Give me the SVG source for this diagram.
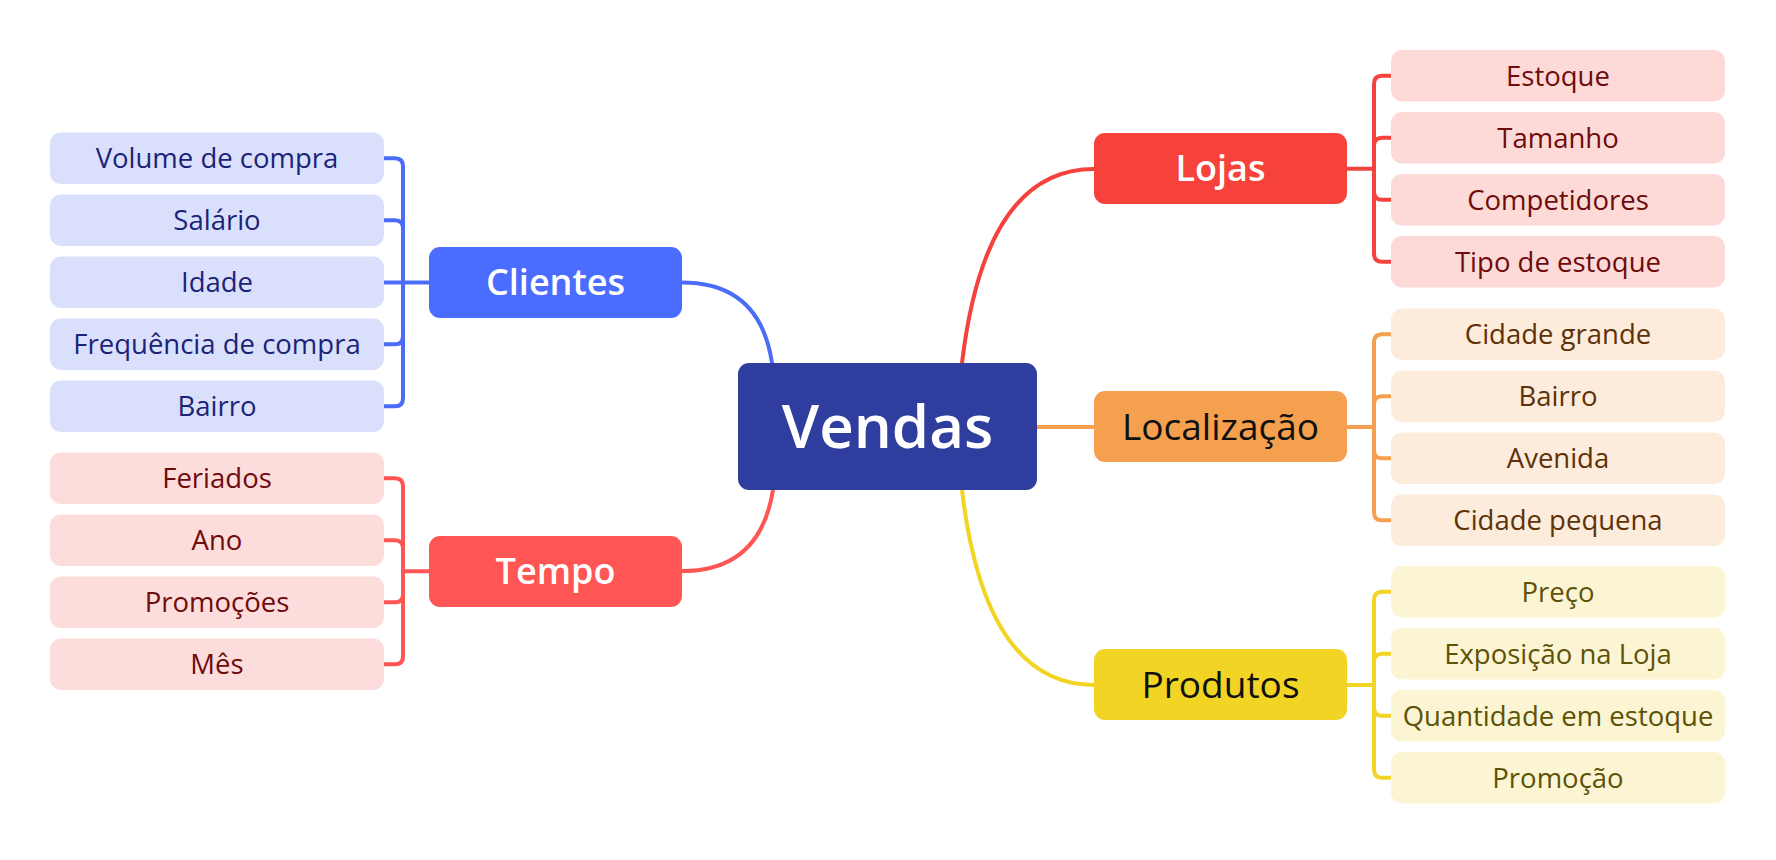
<svg xmlns="http://www.w3.org/2000/svg" width="1776" height="860" viewBox="0 0 1776 860">
<style>
text{font-family:"Open Sans","Liberation Sans",sans-serif;text-anchor:middle}
.leaf{font-size:27.5px}
.br{font-size:36px;font-weight:600}
.brd{font-size:37px;font-weight:400}
.c{fill:none;stroke-width:4;stroke-linecap:round}
.blue{stroke:#4A6CF7}.red{stroke:#FF5555}.lred{stroke:#F5423C}.org{stroke:#F5A04E}.yel{stroke:#F2D424}
</style>
<rect width="1776" height="860" fill="#ffffff"/>
<g id="connectors">
<path class="c blue" d="M772 363 Q760 282.5 682 282.5"/>
<path class="c red" d="M773 490 Q760 571 682 571"/>
<path class="c lred" d="M962 363 Q985 169 1094 169"/>
<path class="c org" d="M1037 427 H1095"/>
<path class="c yel" d="M962 490 Q985 685 1094 685"/>
<path class="c blue" d="M384 158.25 H395 Q403 158.25 403 166.25 V398.25 Q403 406.25 395 406.25 H384"/>
<path class="c blue" d="M384 220.25 H395 Q403 220.25 403 228.25"/>
<path class="c blue" d="M384 344.25 H395 Q403 344.25 403 336.25"/>
<path class="c blue" d="M384 282.5 H430"/>
<path class="c red" d="M384 478.25 H395 Q403 478.25 403 486.25 V656.25 Q403 664.25 395 664.25 H384"/>
<path class="c red" d="M384 540.25 H395 Q403 540.25 403 548.25"/>
<path class="c red" d="M384 602.25 H395 Q403 602.25 403 594.25"/>
<path class="c red" d="M403 571.25 H430"/>
<path class="c lred" d="M1392 75.75 H1382 Q1374 75.75 1374 83.75 V253.75 Q1374 261.75 1382 261.75 H1392"/>
<path class="c lred" d="M1392 137.75 H1382 Q1374 137.75 1374 145.75"/>
<path class="c lred" d="M1392 199.75 H1382 Q1374 199.75 1374 191.75"/>
<path class="c lred" d="M1346 168.75 H1374"/>
<path class="c org" d="M1392 334.25 H1382 Q1374 334.25 1374 342.25 V512.25 Q1374 520.25 1382 520.25 H1392"/>
<path class="c org" d="M1392 396.25 H1382 Q1374 396.25 1374 404.25"/>
<path class="c org" d="M1392 458.25 H1382 Q1374 458.25 1374 450.25"/>
<path class="c org" d="M1346 427 H1374"/>
<path class="c yel" d="M1392 591.75 H1382 Q1374 591.75 1374 599.75 V769.75 Q1374 777.75 1382 777.75 H1392"/>
<path class="c yel" d="M1392 653.75 H1382 Q1374 653.75 1374 661.75"/>
<path class="c yel" d="M1392 715.75 H1382 Q1374 715.75 1374 707.75"/>
<path class="c yel" d="M1346 685 H1374"/>
</g>
<g id="vendas">
<rect x="738" y="363" width="299" height="127" rx="11" fill="#2F3E9E"/>
<text x="887.5" y="448" font-size="60" font-weight="600" fill="#ffffff">Vendas</text>
</g>
<g id="clientes">
<rect x="429" y="247" width="253" height="71" rx="11" fill="#4A6CFF"/>
<text class="br" x="555.5" y="295" fill="#ffffff">Clientes</text>
</g>
<g id="tempo">
<rect x="429" y="536" width="253" height="71" rx="11" fill="#FF5555"/>
<text class="br" x="555.5" y="584" fill="#ffffff">Tempo</text>
</g>
<g id="lojas">
<rect x="1094" y="133" width="253" height="71" rx="11" fill="#F7423B"/>
<text class="br" x="1220.5" y="181" fill="#ffffff">Lojas</text>
</g>
<g id="localizacao">
<rect x="1094" y="391" width="253" height="71" rx="11" fill="#F5A04E"/>
<text class="brd" x="1220.5" y="439.5" fill="#111111">Localização</text>
</g>
<g id="produtos">
<rect x="1094" y="649" width="253" height="71" rx="11" fill="#F2D424"/>
<text class="brd" x="1220.5" y="697.5" fill="#111111">Produtos</text>
</g>
<g id="clientes-leaves" fill="#DAE0FC">
<g id="c1"><rect x="50" y="132.5" width="334" height="51.5" rx="11"/><text class="leaf" x="217" y="168.2" fill="#1B2478">Volume de compra</text></g>
<g id="c2"><rect x="50" y="194.5" width="334" height="51.5" rx="11"/><text class="leaf" x="217" y="230.2" fill="#1B2478">Salário</text></g>
<g id="c3"><rect x="50" y="256.5" width="334" height="51.5" rx="11"/><text class="leaf" x="217" y="292.2" fill="#1B2478">Idade</text></g>
<g id="c4"><rect x="50" y="318.5" width="334" height="51.5" rx="11"/><text class="leaf" x="217" y="354.2" fill="#1B2478">Frequência de compra</text></g>
<g id="c5"><rect x="50" y="380.5" width="334" height="51.5" rx="11"/><text class="leaf" x="217" y="416.2" fill="#1B2478">Bairro</text></g>
</g>
<g id="tempo-leaves" fill="#FDDCDC">
<g id="t1"><rect x="50" y="452.5" width="334" height="51.5" rx="11"/><text class="leaf" x="217" y="488.2" fill="#6E0B0B">Feriados</text></g>
<g id="t2"><rect x="50" y="514.5" width="334" height="51.5" rx="11"/><text class="leaf" x="217" y="550.2" fill="#6E0B0B">Ano</text></g>
<g id="t3"><rect x="50" y="576.5" width="334" height="51.5" rx="11"/><text class="leaf" x="217" y="612.2" fill="#6E0B0B">Promoções</text></g>
<g id="t4"><rect x="50" y="638.5" width="334" height="51.5" rx="11"/><text class="leaf" x="217" y="674.2" fill="#6E0B0B">Mês</text></g>
</g>
<g id="lojas-leaves" fill="#FDDAD8">
<g id="l1"><rect x="1391" y="50" width="334" height="51.5" rx="11"/><text class="leaf" x="1558" y="85.7" fill="#6E0B0B">Estoque</text></g>
<g id="l2"><rect x="1391" y="112" width="334" height="51.5" rx="11"/><text class="leaf" x="1558" y="147.7" fill="#6E0B0B">Tamanho</text></g>
<g id="l3"><rect x="1391" y="174" width="334" height="51.5" rx="11"/><text class="leaf" x="1558" y="209.7" fill="#6E0B0B">Competidores</text></g>
<g id="l4"><rect x="1391" y="236" width="334" height="51.5" rx="11"/><text class="leaf" x="1558" y="271.7" fill="#6E0B0B">Tipo de estoque</text></g>
</g>
<g id="localizacao-leaves" fill="#FDEBDC">
<g id="g1"><rect x="1391" y="308.5" width="334" height="51.5" rx="11"/><text class="leaf" x="1558" y="344.2" fill="#5E3208">Cidade grande</text></g>
<g id="g2"><rect x="1391" y="370.5" width="334" height="51.5" rx="11"/><text class="leaf" x="1558" y="406.2" fill="#5E3208">Bairro</text></g>
<g id="g3"><rect x="1391" y="432.5" width="334" height="51.5" rx="11"/><text class="leaf" x="1558" y="468.2" fill="#5E3208">Avenida</text></g>
<g id="g4"><rect x="1391" y="494.5" width="334" height="51.5" rx="11"/><text class="leaf" x="1558" y="530.2" fill="#5E3208">Cidade pequena</text></g>
</g>
<g id="produtos-leaves" fill="#FCF5D3">
<g id="p1"><rect x="1391" y="566" width="334" height="51.5" rx="11"/><text class="leaf" x="1558" y="601.7" fill="#5E5208">Preço</text></g>
<g id="p2"><rect x="1391" y="628" width="334" height="51.5" rx="11"/><text class="leaf" x="1558" y="663.7" fill="#5E5208">Exposição na Loja</text></g>
<g id="p3"><rect x="1391" y="690" width="334" height="51.5" rx="11"/><text class="leaf" x="1558" y="725.7" fill="#5E5208">Quantidade em estoque</text></g>
<g id="p4"><rect x="1391" y="752" width="334" height="51.5" rx="11"/><text class="leaf" x="1558" y="787.7" fill="#5E5208">Promoção</text></g>
</g>
</svg>
